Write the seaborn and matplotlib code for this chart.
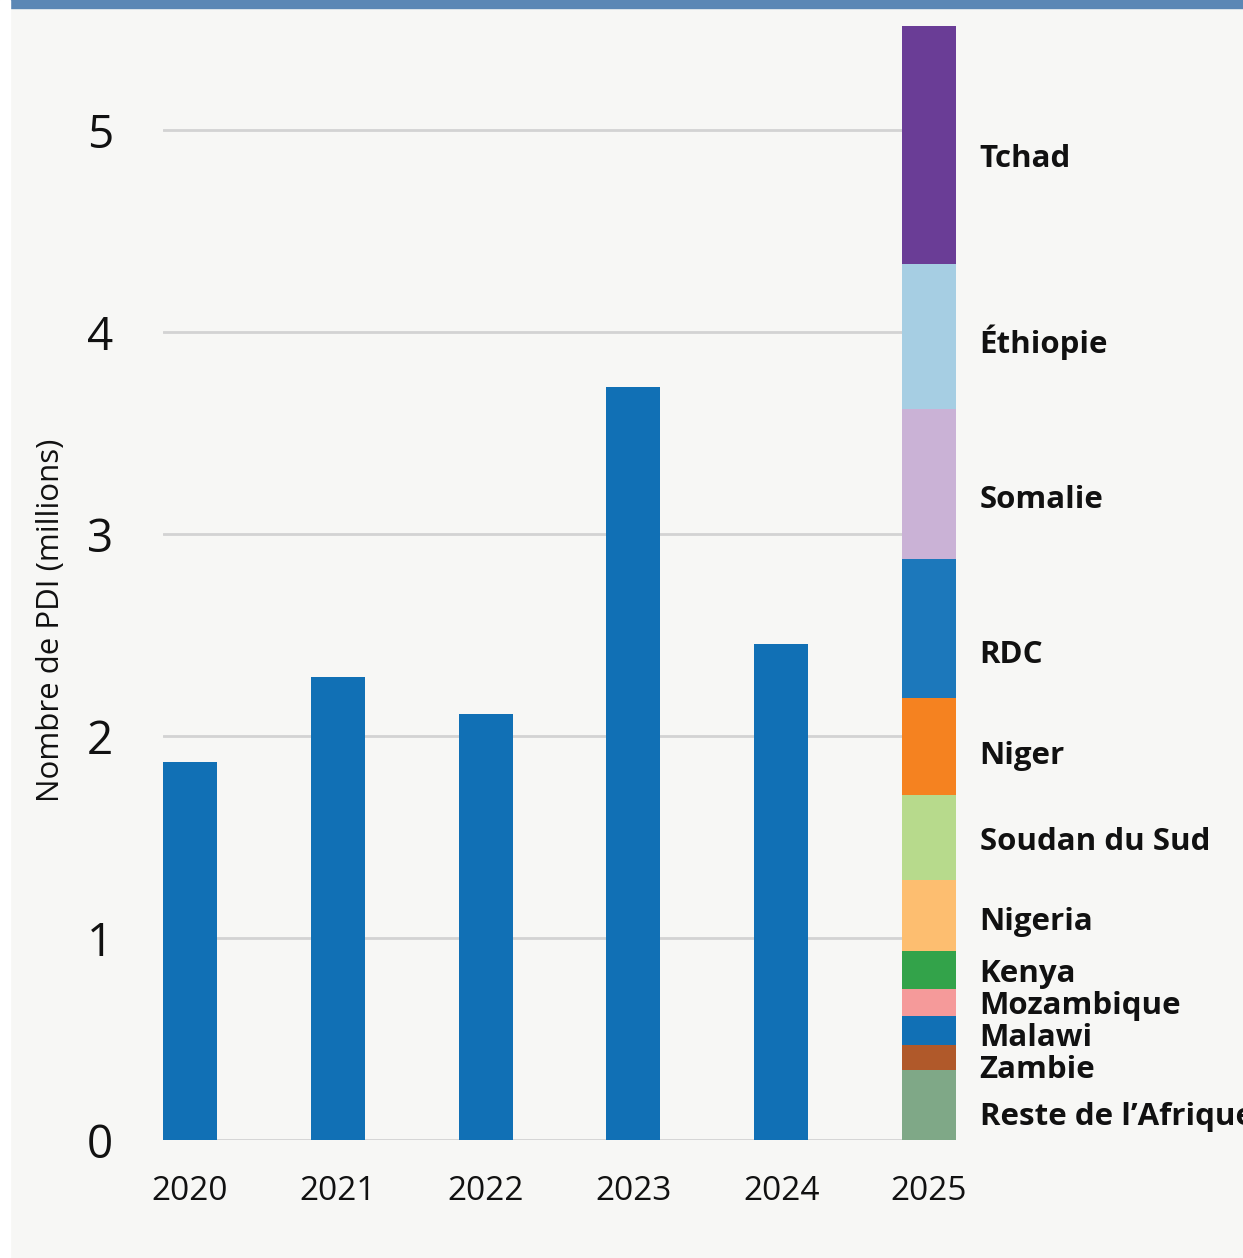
import matplotlib
matplotlib.use("Agg")
import matplotlib.pyplot as plt
from matplotlib.patches import Rectangle
import numpy as np
import pandas as pd
import seaborn as sns

# Totaux des PDI par annee (millions)
years = ["2020", "2021", "2022", "2023", "2024", "2025"]
totals = [1.87, 2.29, 2.11, 3.73, 2.455]

# Repartition 2025 par pays, du bas vers le haut
countries = ["Reste de l\u2019Afrique", "Zambie", "Malawi", "Mozambique", "Kenya",
             "Nigeria", "Soudan du Sud", "Niger", "RDC", "Somalie", "\u00c9thiopie", "Tchad"]
values_2025 = [0.345, 0.125, 0.144, 0.134, 0.188, 0.351, 0.421, 0.480, 0.688, 0.743, 0.718, 1.178]
colors_2025 = ["#7fa887", "#b0592a", "#1170b5", "#f59a9a", "#33a34a", "#fdbe70",
               "#b7da8c", "#f58220", "#1c78bb", "#cab2d6", "#a6cee3", "#6a3d96"]
label_y = [0.115, 0.345, 0.505, 0.663, 0.82, 1.08, 1.475, 1.90, 2.40, 3.17, 3.95, 4.855]

bar_color = "#1170b5"
bg = "#f7f7f5"

sns.set_theme(style="white")
plt.rcParams["font.family"] = ["Open Sans", "DejaVu Sans"]

fig = plt.figure(figsize=(12.43, 12.58), dpi=100, facecolor=bg)
# bande bleue en haut et marge blanche a gauche
fig.patches.append(Rectangle((10 / 1243, 1 - 8 / 1258), 1, 8 / 1258, transform=fig.transFigure,
                             color="#5b87b5", zorder=-1))
fig.patches.append(Rectangle((0, 0), 10 / 1243, 1, transform=fig.transFigure,
                             color="white", zorder=-1))

ax = fig.add_axes([163 / 1243, 1 - 1140 / 1258, 793 / 1243, 1115 / 1258])
ax.set_facecolor(bg)

w = 0.365
df = pd.DataFrame({"annee": years[:5], "pdi": totals})
sns.barplot(data=df, x="annee", y="pdi", order=years, color=bar_color,
            width=w, saturation=1, linewidth=0, ax=ax, zorder=2)

# barre empilee 2025
bottoms = np.concatenate([[0], np.cumsum(values_2025)[:-1]])
ax.bar(5, values_2025, width=w, bottom=bottoms, color=colors_2025, linewidth=0, zorder=2)
for name, y in zip(countries, label_y):
    ax.text(5 + w / 2 + 0.16, y, name, fontsize=22.5, fontweight="bold",
            va="center", ha="left", color="#111111", clip_on=False)

ax.set_xlim(-w / 2, 5 + w / 2)
ax.set_ylim(0, 5.52)
ax.set_yticks([0, 1, 2, 3, 4, 5])
ax.yaxis.grid(True, color="#d3d3d3", linewidth=2)
ax.set_axisbelow(True)
for s in ax.spines.values():
    s.set_visible(False)

ax.tick_params(axis="y", length=0, pad=36, labelsize=33, labelcolor="#111111")
ax.tick_params(axis="x", length=0, pad=25, labelsize=24, labelcolor="#111111")
ax.set_xlabel("")
ax.set_ylabel("Nombre de PDI (millions)", fontsize=22.5, color="#111111")
ax.yaxis.set_label_coords(-0.122, 0.466)

fig.savefig("out.png", dpi=100, facecolor=bg)
